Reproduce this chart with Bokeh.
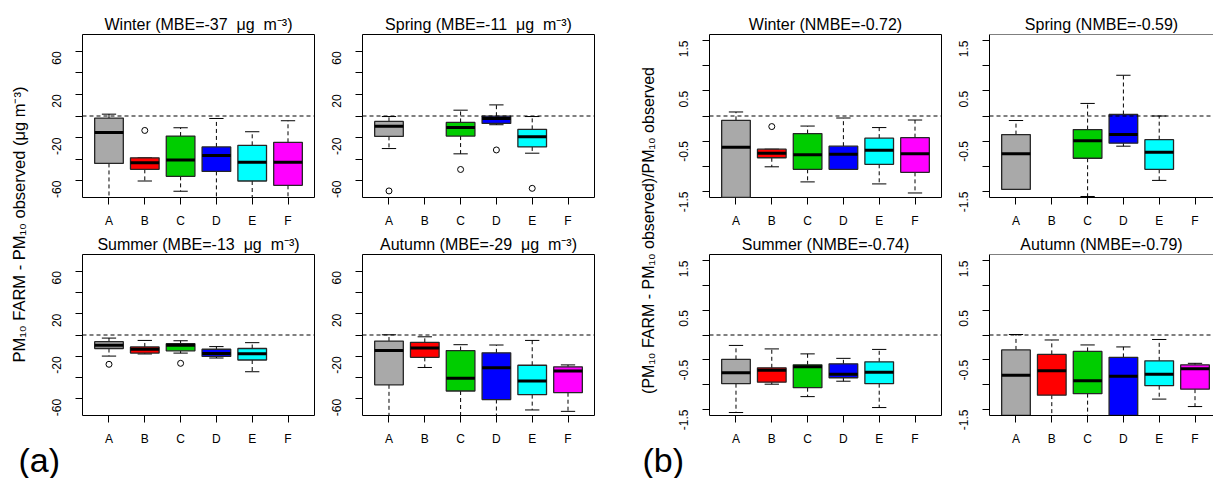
import math
from bokeh.plotting import figure
from bokeh.layouts import row, column
from bokeh.models import Range1d, FixedTicker, CustomJSTickFormatter, Span
from bokeh.embed import file_html
from bokeh.resources import INLINE
from bokeh.core.properties import value

FONT = "Liberation Sans"

# ---------------- data ----------------
cats = ["A", "B", "C", "D", "E", "F"]
box_colors = ["#A9A9A9", "#FF0000", "#00CD00", "#0000FF", "#00FFFF", "#FF00FF"]

titles_a = ["Winter (MBE=-37 \u00a0\u03bcg \u00a0m\u207b\u00b3)", "Spring (MBE=-11 \u00a0\u03bcg \u00a0m\u207b\u00b3)",
            "Summer (MBE=-13 \u00a0\u03bcg \u00a0m\u207b\u00b3)", "Autumn (MBE=-29 \u00a0\u03bcg \u00a0m\u207b\u00b3)"]
titles_b = ["Winter (NMBE=-0.72)", "Spring (NMBE=-0.59)", "Summer (NMBE=-0.74)", "Autumn (NMBE=-0.79)"]

ylab_a = "PM\u2081\u2080 FARM - PM\u2081\u2080 observed (\u03bcg m\u207b\u00b3)"
ylab_b = "(PM\u2081\u2080 FARM - PM\u2081\u2080 observed)/PM\u2081\u2080 observed"

# (a) MBE, ug m-3
a_win_low = [-90, -60.3, -69.8, -85, -85, -85]
a_win_q1 = [-44, -49.5, -56, -51.4, -60.3, -64.3]
a_win_med = [-15.2, -43.4, -40.7, -36.7, -42.8, -42.8]
a_win_q3 = [-1.9, -38.8, -18.6, -28.7, -27.2, -24.4]
a_win_high = [1.7, -38.8, -10.9, -2.3, -14.6, -4.4]
a_win_out_cat = ["B"]
a_win_out_val = [-13.4]

a_spr_low = [-30.2, None, -35.1, -8.1, -34.5, None]
a_spr_q1 = [-18.9, None, -18.6, -6.9, -28.7, None]
a_spr_med = [-9.4, None, -10.6, -2.3, -19.2, None]
a_spr_q3 = [-5.0, None, -6.0, -0.2, -12.4, None]
a_spr_high = [-0.5, None, 5.4, 10.3, -0.5, None]
a_spr_out_cat = ["A", "C", "D", "E"]
a_spr_out_val = [-69.5, -49.6, -31.5, -67.1]

a_sum_low = [-19.8, -17.8, -17.0, -21.6, -34.5, None]
a_sum_q1 = [-12.7, -17.0, -14.9, -20.1, -23.5, None]
a_sum_med = [-9.7, -13.4, -9.7, -17.3, -17.6, None]
a_sum_q3 = [-6.3, -11.2, -8.1, -13.4, -12.7, None]
a_sum_high = [-2.9, -5.1, -5.4, -10.9, -7.2, None]
a_sum_out_cat = ["A", "C"]
a_sum_out_val = [-27.5, -26.6]

a_aut_low = [-85, -30.5, -85, -85, -70.4, -71.7]
a_aut_q1 = [-46.8, -21.0, -52.6, -60.6, -56.0, -54.2]
a_aut_med = [-14.6, -12.1, -40.7, -30.8, -43.1, -33.9]
a_aut_q3 = [-5.7, -6.9, -14.6, -16.7, -28.4, -29.9]
a_aut_high = [0.2, -1.7, -9.1, -9.4, -5.1, -28.1]
a_aut_out_cat = []
a_aut_out_val = []

# (b) NMBE
b_win_low = [-3.0, -1.01, -1.31, -1.06, -1.35, -1.53]
b_win_q1 = [-2.0, -0.83, -1.06, -1.06, -0.96, -1.12]
b_win_med = [-0.62, -0.74, -0.77, -0.76, -0.68, -0.75]
b_win_q3 = [-0.085, -0.66, -0.35, -0.60, -0.44, -0.43]
b_win_high = [0.08, -0.66, -0.20, -0.04, -0.23, -0.08]
b_win_out_cat = ["B"]
b_win_out_val = [-0.21]

b_spr_low = [-1.46, None, -1.60, -0.60, -1.28, None]
b_spr_q1 = [-1.46, None, -0.84, -0.54, -1.06, None]
b_spr_med = [-0.75, None, -0.49, -0.37, -0.72, None]
b_spr_q3 = [-0.37, None, -0.27, 0.03, -0.47, None]
b_spr_high = [-0.09, None, 0.25, 0.81, 0.0, None]
b_spr_out_cat = []
b_spr_out_val = []

b_sum_low = [-1.56, -0.99, -1.24, -0.93, -1.46, None]
b_sum_q1 = [-0.98, -0.95, -1.06, -0.86, -0.98, None]
b_sum_med = [-0.76, -0.71, -0.64, -0.79, -0.75, None]
b_sum_q3 = [-0.49, -0.66, -0.60, -0.58, -0.54, None]
b_sum_high = [-0.21, -0.28, -0.38, -0.47, -0.29, None]
b_sum_out_cat = []
b_sum_out_val = []

b_aut_low = [-2.5, -1.9, -1.9, -2.5, -1.29, -1.44]
b_aut_q1 = [-1.8, -1.21, -1.18, -1.8, -1.02, -1.09]
b_aut_med = [-0.81, -0.72, -0.92, -0.83, -0.79, -0.68]
b_aut_q3 = [-0.30, -0.39, -0.33, -0.45, -0.52, -0.60]
b_aut_high = [0.01, -0.10, -0.20, -0.24, -0.09, -0.57]
b_aut_out_cat = []
b_aut_out_val = []

a_major = [-60, -20, 20, 60]
a_minor = [-40, 0, 40]
b_major = [-1.5, -0.5, 0.5, 1.5]
b_minor = [-1.0, 0.0, 1.0]
a_lim = 70 * 1.08
b_lim = 1.5 * 1.08

X0, X1 = 0.26, 6.74
FRAME_W = 232


def make_panel(title, low, q1, med, q3, high, out_cat, out_val, lim, major, minor,
               width, height, bl, br, bt, bb, open_right=False, title_offset=0):
    frame_w = width - bl - br
    xmax = X0 + frame_w * (X1 - X0) / FRAME_W
    p = figure(width=width, height=height, x_range=Range1d(X0, xmax), y_range=Range1d(-lim, lim),
               output_backend="svg", toolbar_location=None,
               min_border_left=bl, min_border_right=br, min_border_top=bt, min_border_bottom=bb,
               title=title)
    p.title.text_font = FONT
    p.title.text_font_size = "16px"
    p.title.text_font_style = "normal"
    p.title.text_color = "black"
    p.title.align = "center"
    p.title.offset = title_offset
    p.title.standoff = 4
    p.grid.visible = False
    p.background_fill_color = "white"
    p.border_fill_color = "white"
    if open_right:
        p.outline_line_color = None
    else:
        p.outline_line_color = "black"
        p.outline_line_alpha = 1.0
        p.outline_line_width = 1

    idx = [i for i in range(len(cats)) if med[i] is not None]
    xs = [i + 1 for i in idx]
    lo = [low[i] for i in idx]
    b1 = [q1[i] for i in idx]
    md = [med[i] for i in idx]
    b3 = [q3[i] for i in idx]
    hi = [high[i] for i in idx]
    cols = [box_colors[i] for i in idx]

    p.add_layout(Span(location=0, dimension="width", line_color="black", line_width=1, line_dash="4 3"))

    # whiskers
    p.segment(x0=xs, y0=b3, x1=xs, y1=hi, line_color="black", line_width=1, line_dash="4 3")
    p.segment(x0=xs, y0=b1, x1=xs, y1=lo, line_color="black", line_width=1, line_dash="4 3")
    # staples
    p.segment(x0=[x - 0.2 for x in xs], y0=hi, x1=[x + 0.2 for x in xs], y1=hi, line_color="black", line_width=1)
    p.segment(x0=[x - 0.2 for x in xs], y0=lo, x1=[x + 0.2 for x in xs], y1=lo, line_color="black", line_width=1)
    # boxes
    p.vbar(x=xs, width=0.8, bottom=b1, top=b3, fill_color=cols, line_color="#262626", line_width=1.3)
    # medians
    p.segment(x0=[x - 0.4 for x in xs], y0=md, x1=[x + 0.4 for x in xs], y1=md, line_color="black", line_width=3)
    # outliers
    if out_cat:
        p.scatter(x=[cats.index(c) + 1 for c in out_cat], y=out_val, marker="circle", size=6,
                  fill_color=None, line_color="black", line_width=1)

    # axes
    xa = p.xaxis[0]
    xa.ticker = FixedTicker(ticks=[1, 2, 3, 4, 5, 6])
    xa.formatter = CustomJSTickFormatter(args=dict(cats=cats), code="return cats[Math.round(tick) - 1];")
    ya = p.yaxis[0]
    ya.ticker = FixedTicker(ticks=major, minor_ticks=minor)
    ya.formatter = CustomJSTickFormatter(code="return tick.toString();")
    ya.major_label_orientation = math.pi / 2
    for ax in (xa, ya):
        ax.major_tick_out = 7
        ax.major_tick_in = 0
        ax.minor_tick_out = 7
        ax.minor_tick_in = 0
        ax.major_tick_line_color = "black"
        ax.minor_tick_line_color = "black"
        ax.major_label_text_font = FONT
        ax.major_label_text_font_size = "12px"
        ax.major_label_text_color = "black"
        ax.axis_line_color = "black" if open_right else None
    xa.minor_tick_line_color = None
    xa.major_label_standoff = 9
    ya.major_label_standoff = 19
    if open_right:
        p.add_layout(Span(location=lim, dimension="width", line_color="black", line_width=1))
    return p


# layout geometry (pixels)
ROW1_H = 230   # top border 34 + frame 164 + bottom 32
ROW2_H = 218   # top border 24 + frame 164 + bottom 30
TOP_H = ROW1_H + ROW2_H
OVERLAP = 12
BOT_H = 478 - TOP_H + OVERLAP


def panel_set(titles, data, lim, major, minor, widths, borders, open_last=False):
    figs = []
    for k in range(4):
        col = k % 2
        rowi = k // 2
        h = ROW1_H if rowi == 0 else ROW2_H
        bt = 34 if rowi == 0 else 24
        bb = 32 if rowi == 0 else 30
        bl, br = borders[col]
        openr = open_last and col == 1
        figs.append(make_panel(titles[k], *data[k], lim, major, minor, widths[col], h, bl, br, bt, bb,
                               open_right=openr, title_offset=(4 if openr else 0)))
    return column(row(figs[0], figs[1]), row(figs[2], figs[3]))


data_a = [
    (a_win_low, a_win_q1, a_win_med, a_win_q3, a_win_high, a_win_out_cat, a_win_out_val),
    (a_spr_low, a_spr_q1, a_spr_med, a_spr_q3, a_spr_high, a_spr_out_cat, a_spr_out_val),
    (a_sum_low, a_sum_q1, a_sum_med, a_sum_q3, a_sum_high, a_sum_out_cat, a_sum_out_val),
    (a_aut_low, a_aut_q1, a_aut_med, a_aut_q3, a_aut_high, a_aut_out_cat, a_aut_out_val),
]
data_b = [
    (b_win_low, b_win_q1, b_win_med, b_win_q3, b_win_high, b_win_out_cat, b_win_out_val),
    (b_spr_low, b_spr_q1, b_spr_med, b_spr_q3, b_spr_high, b_spr_out_cat, b_spr_out_val),
    (b_sum_low, b_sum_q1, b_sum_med, b_sum_q3, b_sum_high, b_sum_out_cat, b_sum_out_val),
    (b_aut_low, b_aut_q1, b_aut_med, b_aut_q3, b_aut_high, b_aut_out_cat, b_aut_out_val),
]

# x layout: stripA 0-34 | aW 34-316 | aS 316-610 | stripB 610-662 | bW 662-943 | bS 943-1213
block_a = panel_set(titles_a, data_a, a_lim, a_major, a_minor,
                    widths=[282, 294], borders=[(48, 2), (46, 16)])
block_b = panel_set(titles_b, data_b, b_lim, b_major, b_minor,
                    widths=[281, 270], borders=[(47, 2), (46, 0)], open_last=True)


def strip(width, height, transparent=False):
    s = figure(width=width, height=height, x_range=Range1d(0, width), y_range=Range1d(0, height),
               x_axis_type=None, y_axis_type=None, output_backend="svg", toolbar_location=None,
               min_border=0, title=None)
    s.outline_line_color = None
    s.grid.visible = False
    if transparent:
        s.background_fill_color = None
        s.border_fill_color = None
    else:
        s.background_fill_color = "white"
        s.border_fill_color = "white"
    return s


strip_a = strip(34, TOP_H)
strip_a.text(x=[18], y=[TOP_H - 224], text=[ylab_a], angle=math.pi / 2, text_align="center",
             text_baseline="middle", text_font=value(FONT), text_font_size="16.5px", text_color="black")
strip_b = strip(52, TOP_H)
strip_b.text(x=[38], y=[TOP_H - 230], text=[ylab_b], angle=math.pi / 2, text_align="center",
             text_baseline="middle", text_font=value(FONT), text_font_size="16px", text_color="black")

bottom = strip(1213, BOT_H, transparent=True)
bottom.margin = (-OVERLAP, 0, 0, 0)
bottom.text(x=[18, 642], y=[19, 19], text=["(a)", "(b)"], text_align="left", text_baseline="middle",
            text_font=value(FONT), text_font_size="34px", text_color="black")

layout = column(row(strip_a, block_a, strip_b, block_b), bottom)

open("out.html", "w").write(file_html(layout, INLINE))
